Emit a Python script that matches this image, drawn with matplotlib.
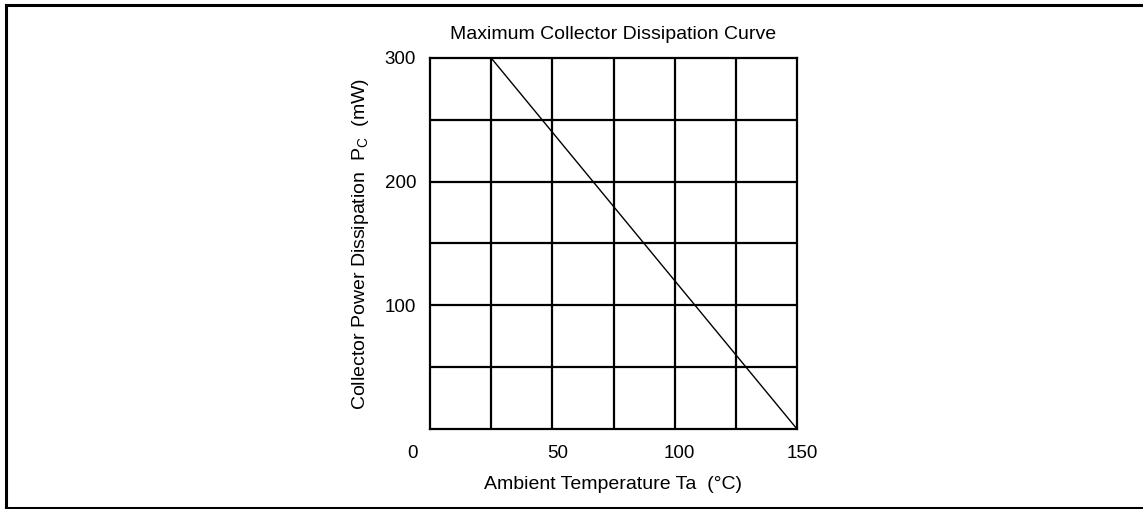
import matplotlib.pyplot as plt
from matplotlib.lines import Line2D

# krzywa maksymalnej mocy strat kolektora
temp = [25, 150]      # Ta (°C)
moc = [300, 0]        # Pc (mW)
xticks = [50, 100, 150]
yticks = [100, 200, 300]

plt.rcParams['font.family'] = ['Liberation Sans', 'DejaVu Sans']

W, H = 1143, 509
fig = plt.figure(figsize=(W / 100, H / 100), dpi=100)
ax = fig.add_axes([430 / W, 1 - 429 / H, 367 / W, 371 / H])

ax.plot(temp, moc, color='black', lw=1.0)
ax.set_xlim(0, 150)
ax.set_ylim(0, 300)

# siatka co 25 stopni i co 50 mW
for xv in range(25, 150, 25):
    ax.axvline(xv, color='black', lw=1.6)
for yv in range(50, 300, 50):
    ax.axhline(yv, color='black', lw=1.6)
for s in ax.spines.values():
    s.set_linewidth(1.6)

# podpisy osi X lekko przesunięte w prawo jak w oryginale
ax.set_xticks(xticks)
ax.set_xticklabels([])
for t in xticks:
    ax.text(t + 2, -20, str(t), ha='center', va='center', fontsize=13.5)
ax.text(-7, -20, '0', ha='center', va='center', fontsize=13.5)

ax.set_yticks(yticks)
ax.set_yticklabels([str(t) for t in yticks])
ax.tick_params(length=0, labelsize=13.5, pad=10)

ax.set_title('Maximum Collector Dissipation Curve', fontsize=14, pad=14)
ax.set_xlabel('Ambient Temperature Ta  (°C)', fontsize=14, labelpad=24)
ax.set_ylabel('Collector Power Dissipation  P$_\\mathregular{C}$  (mW)', fontsize=14, labelpad=10)

# ramka wokół obrazka (bez prawej krawędzi)
fig.add_artist(Line2D([6 / W, 1], [1 - 5 / H, 1 - 5 / H], color='black', lw=2.2))
fig.add_artist(Line2D([6 / W, 6 / W], [1 - 5 / H, 1 - 507.5 / H], color='black', lw=2.2))
fig.add_artist(Line2D([6 / W, 1], [1 - 507.5 / H, 1 - 507.5 / H], color='black', lw=2.2))

fig.savefig('out.png', dpi=100)
